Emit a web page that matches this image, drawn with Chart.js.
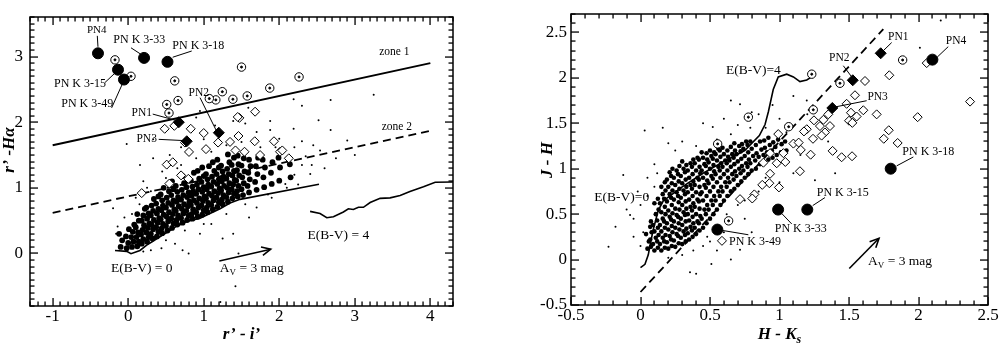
<!DOCTYPE html>
<html>
<head>
<meta charset="utf-8">
<script src="https://cdn.jsdelivr.net/npm/chart.js@4.4.0/dist/chart.umd.min.js"></script>
<style>
  html, body { margin: 0; padding: 0; background: #fff; }
  #wrap { position: relative; width: 1001px; height: 348px; overflow: hidden; }
  #cl { position: absolute; left: 0; top: 0; }
  #cr { position: absolute; left: 530px; top: 0; }
</style>
</head>
<body>
<div id="wrap">
  <canvas id="cl" width="470" height="348"></canvas>
  <canvas id="cr" width="471" height="348"></canvas>
</div>
<script>
const SERIF = "Liberation Serif, DejaVu Serif, serif";

// ---------- left panel: r'-i' vs r'-Halpha ----------
const pnCirclesL = [[-0.40, 3.05], [0.21, 2.98], [0.52, 2.92], [-0.135, 2.80], [-0.056, 2.65]];
const pnDiamondsL = [[0.67, 2.00], [1.20, 1.84], [0.775, 1.71]];
const dotCirclesL = [[-0.175, 2.95], [0.037, 2.70], [0.616, 2.63], [1.50, 2.84], [2.262, 2.69], [1.874, 2.52],
  [1.576, 2.40], [1.386, 2.35], [1.246, 2.465], [1.16, 2.34], [1.074, 2.36], [0.66, 2.33], [0.51, 2.27], [0.54, 2.14]];
const openDiamondsL = [[0.483, 1.90], [0.611, 1.945], [0.828, 1.90], [1.472, 2.066], [1.45, 2.08], [1.68, 2.16],
  [1.0, 1.835], [0.752, 1.69], [0.805, 1.547], [0.51, 1.354], [0.59, 1.39], [0.70, 1.19], [0.796, 1.137],
  [0.545, 1.065], [0.179, 0.92], [1.46, 1.79], [1.675, 1.71], [1.93, 1.71], [1.03, 1.59], [1.19, 1.69],
  [1.348, 1.70], [1.42, 1.57], [1.54, 1.55], [1.746, 1.50], [2.01, 1.55], [2.126, 1.45], [2.04, 1.57]];
const fieldCoreL = [
  [-0.1,0.1],[-0.08,0.2],[-0.12,0.3],
  [-0.02,0.08],[0.0,0.16],[-0.03,0.26],[0.01,0.37],
  [0.05,0.1],[0.07,0.18],[0.04,0.25],[0.06,0.33],[0.08,0.44],
  [0.12,0.11],[0.14,0.18],[0.11,0.25],[0.13,0.32],[0.1,0.4],[0.14,0.5],[0.12,0.6],
  [0.18,0.15],[0.2,0.22],[0.17,0.29],[0.19,0.36],[0.21,0.43],[0.18,0.5],[0.2,0.58],[0.22,0.68],
  [0.25,0.18],[0.27,0.25],[0.24,0.32],[0.26,0.39],[0.28,0.46],[0.25,0.53],[0.27,0.61],[0.24,0.7],
  [0.32,0.23],[0.3,0.3],[0.33,0.37],[0.31,0.44],[0.34,0.51],[0.3,0.58],[0.33,0.65],[0.31,0.73],[0.34,0.83],
  [0.38,0.26],[0.4,0.33],[0.37,0.4],[0.39,0.47],[0.41,0.54],[0.38,0.61],[0.4,0.68],[0.37,0.76],[0.4,0.87],
  [0.45,0.31],[0.44,0.38],[0.46,0.45],[0.43,0.52],[0.47,0.59],[0.44,0.66],[0.46,0.73],[0.45,0.81],[0.43,0.9],[0.47,1.0],
  [0.52,0.35],[0.5,0.42],[0.53,0.49],[0.51,0.56],[0.54,0.63],[0.5,0.7],[0.53,0.77],[0.51,0.85],[0.54,0.95],
  [0.58,0.39],[0.6,0.46],[0.57,0.53],[0.59,0.6],[0.61,0.67],[0.58,0.74],[0.6,0.81],[0.57,0.89],[0.6,0.98],[0.58,1.1],
  [0.65,0.44],[0.64,0.51],[0.66,0.58],[0.63,0.65],[0.67,0.72],[0.64,0.79],[0.66,0.86],[0.65,0.94],[0.63,1.03],
  [0.72,0.47],[0.7,0.54],[0.73,0.61],[0.71,0.68],[0.74,0.75],[0.7,0.82],[0.73,0.89],[0.71,0.97],[0.74,1.07],[0.72,1.18],
  [0.78,0.51],[0.8,0.58],[0.77,0.65],[0.79,0.72],[0.81,0.79],[0.78,0.86],[0.8,0.93],[0.77,1.01],[0.8,1.11],
  [0.85,0.53],[0.84,0.6],[0.86,0.67],[0.83,0.74],[0.87,0.81],[0.84,0.88],[0.86,0.95],[0.85,1.02],[0.83,1.11],[0.87,1.23],
  [0.92,0.56],[0.9,0.63],[0.93,0.7],[0.91,0.77],[0.94,0.84],[0.9,0.91],[0.93,0.98],[0.91,1.05],[0.94,1.14],[0.92,1.26],
  [0.98,0.59],[1.0,0.66],[0.97,0.73],[0.99,0.8],[1.01,0.87],[0.98,0.94],[1.0,1.01],[0.97,1.09],[1.0,1.18],[0.98,1.31],
  [1.05,0.63],[1.04,0.7],[1.06,0.77],[1.03,0.84],[1.07,0.91],[1.04,0.98],[1.06,1.05],[1.05,1.13],[1.03,1.21],[1.07,1.33],
  [1.12,0.67],[1.1,0.74],[1.13,0.81],[1.11,0.88],[1.14,0.95],[1.1,1.02],[1.13,1.09],[1.11,1.17],[1.14,1.26],[1.12,1.39],
  [1.18,0.71],[1.2,0.78],[1.17,0.85],[1.19,0.92],[1.21,0.99],[1.18,1.06],[1.2,1.13],[1.17,1.21],[1.2,1.31],[1.18,1.43],
  [1.25,0.75],[1.24,0.82],[1.26,0.89],[1.23,0.96],[1.27,1.03],[1.24,1.1],[1.26,1.17],[1.25,1.25],[1.23,1.34],
  [1.32,0.79],[1.3,0.86],[1.33,0.93],[1.31,1.0],[1.34,1.07],[1.3,1.14],[1.33,1.21],[1.31,1.29],[1.34,1.39],[1.32,1.51],
  [1.38,0.84],[1.4,0.91],[1.37,0.98],[1.39,1.05],[1.41,1.12],[1.38,1.19],[1.4,1.26],[1.37,1.35],[1.4,1.46],
  [1.45,0.87],[1.44,0.95],[1.46,1.03],[1.43,1.11],[1.47,1.19],[1.44,1.27],[1.46,1.36],[1.45,1.49],
  [1.52,0.89],[1.5,0.98],[1.53,1.07],[1.51,1.16],[1.54,1.25],[1.5,1.34],[1.53,1.45],
  [1.6,0.93],[1.58,1.03],[1.61,1.13],[1.59,1.23],[1.62,1.33],[1.6,1.43],
  [1.7,0.97],[1.68,1.09],[1.71,1.21],[1.69,1.33],[1.72,1.46],
  [1.8,1.01],[1.79,1.16],[1.81,1.31],[1.78,1.43],
  [1.9,1.06],[1.89,1.23],[1.91,1.39],
  [2.0,1.11],[2.01,1.31],[1.99,1.46],
  [2.15,1.16],[2.14,1.36]
];
const fieldSparseL = [[-0.02,1.67],[0.33,1.74],[0.156,1.35],[0.33,1.45],[0.95,2.17],[0.9,2.07],[1.39,2.02],
  [1.59,2.22],[1.88,2.02],[1.88,1.88],[1.0,1.74],[2.19,2.35],[2.3,2.25],[2.68,2.34],[3.25,2.42],[2.68,1.88],
  [2.19,1.9],[2.52,2.03],[2.3,1.71],[2.54,1.57],[2.43,1.35],[2.41,1.21],[2.08,1.06],[1.39,0.3],[1.25,0.23],
  [1.46,0.0],[1.42,-0.5],[1.22,-0.74],[0.8,0.0],[0.72,0.05],[0.62,0.15],[0.44,0.08],[-0.16,0.3],[-0.14,0.41],
  [-0.2,0.69],[0.55,1.5],[0.7,1.62],[0.2,1.1],[0.1,0.85],[-0.05,0.55],[1.7,1.85],[2.0,1.75],[2.2,1.62],
  [2.35,1.48],[2.6,1.3],[2.75,1.45],[2.9,1.72],[2.2,1.2],[1.9,0.85],[1.7,0.7],[1.6,0.55],[1.1,0.45],[0.95,0.3],
  [0.3,0.05],[1.15,1.95],[0.45,1.25],[0.25,1.0],[1.55,1.98],[0.8,1.55],[0.65,1.3],[1.95,1.62],[2.45,1.65],[3.0,1.5],
  [0.05,0.6],[0.15,0.75],[0.3,0.95],[0.5,1.15],[0.7,1.35],[0.9,1.45],[1.1,1.55],[1.3,1.65],[1.5,1.7],[1.75,1.62],
  [2.1,1.0],[1.85,0.9],[1.55,0.75],[1.3,0.6],[1.0,0.45],[0.75,0.35],[0.5,0.2],[0.2,0.03],[2.3,1.35],[2.25,1.05]];
const zone1L = [[-1, 1.65], [4, 2.90]];
const zone2L = [[-1, 0.62], [4, 1.87]];
const locus0L = [[-0.175,0.046],[-0.02,0.032],[0.037,-0.003],[0.156,0.046],[0.245,0.127],[0.332,0.19],[0.377,0.224],
  [0.51,0.32],[0.642,0.416],[0.775,0.488],[0.951,0.537],[1.083,0.609],[1.216,0.681],[1.348,0.768],[1.48,0.825],[2.526,1.056]];
const locus4L = [[2.408,0.642],[2.54,0.609],[2.629,0.545],[2.717,0.56],[2.849,0.632],[2.915,0.681],[2.981,0.671],
  [3.048,0.704],[3.114,0.704],[3.203,0.776],[3.335,0.84],[3.467,0.848],[3.6,0.883],[3.73,0.945],[3.909,1.017],
  [4.064,1.085],[4.316,1.09]];
const arrowL = [[1.207, -0.113], [1.887, 0.065]];
const leadersL = [
  [[-0.409,3.316],[-0.40,3.149]], [[0.037,3.134],[0.179,3.027]], [[0.841,3.085],[0.589,2.99]],
  [[-0.307,2.605],[-0.175,2.749]], [[-0.219,2.219],[-0.073,2.594]], [[0.325,2.124],[0.633,2.027]],
  [[0.951,2.374],[1.172,1.859]], [[0.404,1.739],[0.743,1.72]]];
const labelsL = [
  [-0.417, 3.40, 'PN4', 11], [0.147, 3.25, 'PN K 3-33', 12], [0.929, 3.16, 'PN K 3-18', 12],
  [-0.638, 2.59, 'PN K 3-15', 12], [-0.542, 2.28, 'PN K 3-49', 12], [0.179, 2.14, 'PN1', 11.5],
  [0.934, 2.45, 'PN2', 11.5], [0.245, 1.75, 'PN3', 11.5], [3.524, 3.07, 'zone 1', 11.5],
  [3.556, 1.93, 'zone 2', 11.5], [0.179, -0.234, 'E(B-V) = 0', 13.5], [1.636, -0.234, 'A_V = 3 mag', 13.5],
  [2.783, 0.28, 'E(B-V) = 4', 13.5]];

// ---------- right panel: H-Ks vs J-H ----------
const pnCirclesR = [[2.10, 2.20], [1.80, 1.00], [1.20, 0.55], [0.99, 0.55], [0.553, 0.33]];
const pnDiamondsR = [[1.728, 2.27], [1.527, 1.973], [1.38, 1.668]];
const dotCirclesR = [[1.232, 2.04], [1.435, 1.94], [1.886, 2.196], [0.776, 1.567], [1.066, 1.462],
  [0.555, 1.273], [0.634, 0.426], [1.243, 1.648]];
const openDiamondsR = [[2.059,2.162],[1.79,2.028],[1.615,1.965],[1.543,1.808],[1.483,1.714],[1.603,1.643],
  [1.514,1.616],[1.5,1.528],[1.524,1.504],[1.555,1.574],[1.699,1.598],[1.994,1.567],[2.371,1.738],[1.786,1.423],
  [1.75,1.329],[1.85,1.283],[1.382,1.196],[1.447,1.126],[1.522,1.137],[1.351,1.598],[1.316,1.538],[1.291,1.469],
  [1.363,1.469],[1.327,1.399],[1.303,1.364],[1.248,1.532],[1.196,1.434],[1.176,1.41],[1.241,1.329],[1.224,1.154],
  [1.153,1.207],[1.1,1.276],[1.028,1.171],[1.042,1.074],[0.98,1.06],[0.932,0.944],[1.147,0.972],[0.996,0.794],
  [0.927,0.84],[0.876,0.822],[0.819,0.717],[0.804,0.672],[0.716,0.665],[0.586,0.206],[0.884,1.066],[0.932,1.171],
  [0.991,1.381],[1.138,1.287]];
const fieldCoreR = [
  [0.05,0.12],[0.06,0.2],[0.04,0.28],[0.07,0.36],
  [0.1,0.1],[0.09,0.17],[0.11,0.24],[0.1,0.31],[0.09,0.38],[0.11,0.5],[0.1,0.62],
  [0.15,0.1],[0.14,0.17],[0.16,0.24],[0.15,0.31],[0.14,0.38],[0.16,0.45],[0.15,0.52],[0.14,0.62],[0.16,0.72],[0.15,0.8],
  [0.2,0.12],[0.19,0.19],[0.21,0.26],[0.2,0.33],[0.19,0.4],[0.21,0.47],[0.2,0.54],[0.19,0.64],[0.21,0.72],[0.2,0.8],[0.19,0.88],[0.21,0.96],
  [0.25,0.14],[0.24,0.21],[0.26,0.28],[0.25,0.35],[0.24,0.42],[0.26,0.49],[0.25,0.56],[0.24,0.66],[0.26,0.74],[0.25,0.82],[0.24,0.9],[0.26,0.98],
  [0.3,0.17],[0.29,0.24],[0.31,0.31],[0.3,0.38],[0.29,0.45],[0.31,0.52],[0.3,0.6],[0.29,0.68],[0.31,0.76],[0.3,0.84],[0.29,0.92],[0.31,1.0],[0.3,1.08],
  [0.35,0.22],[0.34,0.29],[0.36,0.36],[0.35,0.43],[0.34,0.5],[0.36,0.58],[0.35,0.66],[0.34,0.74],[0.36,0.82],[0.35,0.9],[0.34,0.98],[0.36,1.06],
  [0.4,0.28],[0.39,0.35],[0.41,0.42],[0.4,0.5],[0.39,0.58],[0.41,0.66],[0.4,0.74],[0.39,0.82],[0.41,0.9],[0.4,0.98],[0.39,1.06],[0.41,1.12],
  [0.45,0.35],[0.44,0.45],[0.46,0.55],[0.45,0.65],[0.44,0.74],[0.46,0.82],[0.45,0.9],[0.44,0.98],[0.46,1.05],[0.45,1.12],[0.44,1.18],
  [0.5,0.45],[0.49,0.55],[0.51,0.65],[0.5,0.75],[0.49,0.84],[0.51,0.92],[0.5,1.0],[0.49,1.07],[0.51,1.14],[0.5,1.2],
  [0.55,0.55],[0.54,0.65],[0.56,0.75],[0.55,0.85],[0.54,0.94],[0.56,1.02],[0.55,1.09],[0.54,1.16],[0.56,1.22],
  [0.6,0.65],[0.59,0.75],[0.61,0.85],[0.6,0.94],[0.59,1.02],[0.61,1.09],[0.6,1.16],[0.59,1.23],
  [0.65,0.75],[0.64,0.85],[0.66,0.94],[0.65,1.02],[0.64,1.09],[0.66,1.16],[0.65,1.24],
  [0.7,0.82],[0.69,0.92],[0.71,1.0],[0.7,1.08],[0.69,1.16],[0.71,1.25],
  [0.75,0.9],[0.74,0.98],[0.76,1.06],[0.75,1.14],[0.74,1.22],[0.76,1.3],
  [0.8,0.98],[0.79,1.06],[0.81,1.14],[0.8,1.22],[0.79,1.3],
  [0.86,1.05],[0.85,1.13],[0.87,1.21],[0.86,1.3],
  [0.92,1.1],[0.91,1.18],[0.93,1.26],[0.92,1.34],
  [0.98,1.15],[0.97,1.24],[0.99,1.32],
  [1.05,1.2],[1.04,1.3]
];
const fieldMidR = [
  [0.075,0.14],[0.07,0.22],[0.08,0.3],[0.075,0.42],
  [0.125,0.13],[0.12,0.2],[0.13,0.27],[0.125,0.35],[0.12,0.43],[0.13,0.55],[0.125,0.67],
  [0.175,0.13],[0.17,0.2],[0.18,0.27],[0.175,0.35],[0.17,0.42],[0.18,0.5],[0.175,0.58],[0.17,0.67],[0.18,0.76],[0.175,0.85],
  [0.225,0.15],[0.22,0.22],[0.23,0.3],[0.225,0.37],[0.22,0.44],[0.23,0.51],[0.225,0.6],[0.22,0.68],[0.23,0.76],[0.225,0.84],[0.22,0.92],[0.23,1.0],
  [0.275,0.18],[0.27,0.26],[0.28,0.33],[0.275,0.4],[0.27,0.47],[0.28,0.55],[0.275,0.63],[0.27,0.7],[0.28,0.78],[0.275,0.86],[0.27,0.94],[0.28,1.03],
  [0.325,0.2],[0.32,0.27],[0.33,0.34],[0.325,0.42],[0.32,0.49],[0.33,0.56],[0.325,0.64],[0.32,0.72],[0.33,0.8],[0.325,0.88],[0.32,0.96],[0.33,1.04],
  [0.375,0.25],[0.37,0.32],[0.38,0.4],[0.375,0.47],[0.37,0.54],[0.38,0.62],[0.375,0.7],[0.37,0.78],[0.38,0.86],[0.375,0.94],[0.37,1.02],[0.38,1.1],
  [0.425,0.32],[0.42,0.4],[0.43,0.48],[0.425,0.56],[0.42,0.64],[0.43,0.72],[0.425,0.8],[0.42,0.88],[0.43,0.95],[0.425,1.02],[0.42,1.1],
  [0.475,0.4],[0.47,0.5],[0.48,0.6],[0.475,0.7],[0.47,0.79],[0.48,0.87],[0.475,0.95],[0.47,1.03],[0.48,1.1],[0.475,1.17],
  [0.525,0.5],[0.52,0.6],[0.53,0.7],[0.525,0.8],[0.52,0.89],[0.53,0.97],[0.525,1.04],[0.52,1.11],[0.53,1.18],
  [0.575,0.6],[0.57,0.7],[0.58,0.8],[0.575,0.9],[0.57,0.98],[0.58,1.06],[0.575,1.13],[0.57,1.2],
  [0.625,0.7],[0.62,0.8],[0.63,0.9],[0.625,0.98],[0.62,1.06],[0.63,1.13],[0.625,1.2],
  [0.675,0.78],[0.67,0.88],[0.68,0.97],[0.675,1.05],[0.67,1.12],[0.68,1.2],[0.675,1.28],
  [0.725,0.86],[0.72,0.95],[0.73,1.03],[0.725,1.11],[0.72,1.19],[0.73,1.27],
  [0.775,0.94],[0.77,1.02],[0.78,1.1],[0.775,1.18],[0.77,1.26],
  [0.83,1.0],[0.825,1.09],[0.835,1.17],[0.83,1.26],
  [0.89,1.07],[0.885,1.15],[0.895,1.23],[0.89,1.31],
  [0.95,1.12],[0.945,1.2],[0.955,1.29],
  [1.01,1.18],[1.015,1.27]
];
const fieldSparseR = [[-0.23,0.14],[-0.18,0.36],[-0.124,0.93],[-0.1,0.55],[-0.075,0.49],[-0.05,0.45],[-0.02,0.75],
  [0.0,0.6],[0.03,1.42],[0.05,0.9],[0.1,1.05],[0.16,1.45],[0.2,1.28],[0.25,1.2],[0.3,1.3],[0.45,1.5],[0.52,1.46],
  [0.6,1.55],[0.7,1.48],[0.716,1.71],[0.79,1.45],[0.85,1.6],[0.95,1.7],[1.0,1.55],[1.1,1.8],[1.196,1.75],
  [1.2,1.6],[1.3,1.5],[1.35,1.3],[0.7,0.6],[0.75,0.45],[0.8,0.3],[0.5,0.2],[0.51,-0.05],[0.4,-0.155],
  [0.356,-0.14],[0.716,0.107],[0.55,0.1],[0.65,0.0],[0.9,0.9],[1.1,0.95],[1.255,0.874],[1.4,0.95],
  [2.01,2.33],[2.16,2.63],[0.65,1.75],[1.05,1.4],[0.6,0.3],[0.45,0.15],[0.02,0.3],[0.0,0.15],[-0.05,0.25],
  [0.05,0.7],[0.1,0.8],[0.12,0.95],[0.4,1.25],[0.55,1.32],[0.65,1.38],[0.85,0.75],[0.75,0.65],[0.62,0.5],
  [0.55,0.35],[0.48,0.25],[0.38,0.1],[0.3,0.05],[0.2,0.02],[1.15,1.15],[1.0,0.85],[0.9,1.45],[0.8,1.62]];
const dashR = [[0, -0.357], [1.747, 2.535]];
const trackR = [[0.0,-0.09],[0.032,-0.052],[0.056,0.052],[0.073,0.192],[0.092,0.331],[0.128,0.541],[0.164,0.646],
  [0.3,0.8],[0.45,0.95],[0.6,1.08],[0.75,1.2],[0.855,1.364],[0.896,1.486],[0.92,1.627],[0.955,1.871],[0.991,2.01],
  [1.052,2.04],[1.1,2.01],[1.147,1.958],[1.196,1.976],[1.232,2.01]];
const arrowR = [[1.502, -0.098], [1.716, 0.234]];
const leadersR = [
  [[1.807,2.388],[1.742,2.291]], [[2.214,2.343],[2.135,2.228]], [[1.459,2.133],[1.519,2.011]],
  [[1.627,1.748],[1.399,1.679]], [[1.963,1.129],[1.843,1.031]], [[1.327,0.682],[1.239,0.594]],
  [[1.088,0.392],[1.016,0.507]], [[0.776,0.273],[0.584,0.322]]];
const labelsR = [
  [1.855, 2.448, 'PN1', 11.5], [2.27, 2.406, 'PN4', 11.5], [1.43, 2.214, 'PN2', 11.5], [1.706, 1.784, 'PN3', 11.5],
  [0.812, 2.081, 'E(B-V)=4', 13.5], [-0.135, 0.682, 'E(B-V)=0', 13.5], [2.071, 1.189, 'PN K 3-18', 12],
  [1.455, 0.735, 'PN K 3-15', 12], [1.153, 0.339, 'PN K 3-33', 12], [0.824, 0.2, 'PN K 3-49', 12],
  [1.867, -0.018, 'A_V = 3 mag', 13.5]];

function pts(arr) { return arr.map(p => ({x: p[0], y: p[1]})); }

function marks(data, style, order) {
  return Object.assign({data: pts(data), order: order, showLine: false, pointBorderColor: '#000',
    pointBackgroundColor: '#000', pointBorderWidth: 1, pointHoverRadius: 0}, style);
}
function curve(data, style, order) {
  return Object.assign({data: pts(data), order: order, showLine: true, pointRadius: 0, borderColor: '#000',
    borderWidth: 1.6, fill: false, tension: 0}, style);
}

// text with "_X" meaning subscript X
function richText(ctx, str, cx, cy, size, style) {
  const parts = str.split(/_(.)/);
  const big = (style || '') + ' ' + size + 'px ' + SERIF;
  const small = (style || '') + ' ' + Math.round(size * 0.7) + 'px ' + SERIF;
  let w = 0;
  parts.forEach((p, i) => { ctx.font = i % 2 ? small : big; w += ctx.measureText(p).width; });
  let x = cx - w / 2;
  ctx.textAlign = 'left';
  ctx.textBaseline = 'middle';
  parts.forEach((p, i) => {
    ctx.font = i % 2 ? small : big;
    ctx.fillText(p, x, i % 2 ? cy + size * 0.3 : cy);
    x += ctx.measureText(p).width;
  });
}

// frame, inward ticks, leaders, arrow head, annotations and axis titles
function makeDecor(id, cfg) {
  return {
    id: id,
    afterDraw(chart) {
      const ctx = chart.ctx, area = chart.chartArea, sx = chart.scales.x, sy = chart.scales.y;
      const L = Math.round(area.left), R = Math.round(area.right), T = Math.round(area.top), B = Math.round(area.bottom);
      ctx.save();
      ctx.setLineDash([]);
      ctx.fillStyle = '#000';
      ctx.strokeStyle = '#000';

      // inward ticks on all four sides
      const nx0 = Math.ceil(cfg.xRange[0] / cfg.xMinor - 1e-6), nx1 = Math.floor(cfg.xRange[1] / cfg.xMinor + 1e-6);
      for (let i = nx0; i <= nx1; i++) {
        const r = i * cfg.xMinor / cfg.xMajor;
        const len = Math.abs(r - Math.round(r)) < 1e-6 ? 8 : 4.5;
        const p = Math.round(sx.getPixelForValue(i * cfg.xMinor)) - 0.6;
        ctx.fillRect(p, B - len, 1.3, len);
        ctx.fillRect(p, T, 1.3, len);
      }
      const ny0 = Math.ceil(cfg.yRange[0] / cfg.yMinor - 1e-6), ny1 = Math.floor(cfg.yRange[1] / cfg.yMinor + 1e-6);
      for (let i = ny0; i <= ny1; i++) {
        const r = i * cfg.yMinor / cfg.yMajor;
        const len = Math.abs(r - Math.round(r)) < 1e-6 ? 8 : 4.5;
        const p = Math.round(sy.getPixelForValue(i * cfg.yMinor)) - 0.6;
        ctx.fillRect(L, p, len, 1.3);
        ctx.fillRect(R - len, p, len, 1.3);
      }
      ctx.lineWidth = 1.5;
      ctx.strokeRect(L, T, R - L, B - T);

      ctx.lineWidth = 1;
      ctx.beginPath();
      cfg.leaders.forEach(l => {
        ctx.moveTo(sx.getPixelForValue(l[0][0]), sy.getPixelForValue(l[0][1]));
        ctx.lineTo(sx.getPixelForValue(l[1][0]), sy.getPixelForValue(l[1][1]));
      });
      ctx.stroke();

      const ax0 = sx.getPixelForValue(cfg.arrow[0][0]), ay0 = sy.getPixelForValue(cfg.arrow[0][1]);
      const ax1 = sx.getPixelForValue(cfg.arrow[1][0]), ay1 = sy.getPixelForValue(cfg.arrow[1][1]);
      const ang = Math.atan2(ay1 - ay0, ax1 - ax0);
      ctx.lineWidth = 1.6;
      ctx.beginPath();
      ctx.moveTo(ax1 - 10 * Math.cos(ang - 0.45), ay1 - 10 * Math.sin(ang - 0.45));
      ctx.lineTo(ax1, ay1);
      ctx.lineTo(ax1 - 10 * Math.cos(ang + 0.45), ay1 - 10 * Math.sin(ang + 0.45));
      ctx.stroke();

      cfg.labels.forEach(l => richText(ctx, l[2], sx.getPixelForValue(l[0]), sy.getPixelForValue(l[1]), l[3], ''));

      richText(ctx, cfg.xTitle, (L + R) / 2, 335, 17, 'italic bold');
      ctx.translate(cfg.yTitleX, cfg.yTitleY);
      ctx.rotate(-Math.PI / 2);
      richText(ctx, cfg.yTitle, 0, 0, 17, 'italic bold');
      ctx.restore();
    }
  };
}

function axis(range, step, fit, padding) {
  return {
    type: 'linear', min: range[0], max: range[1],
    ticks: {stepSize: step, includeBounds: false, color: '#000', padding: padding, maxRotation: 0, autoSkip: false,
      font: {family: SERIF, size: 17}, callback: v => String(Math.round(v * 10) / 10)},
    grid: {display: false, drawTicks: false},
    border: {display: false},
    afterFit: fit
  };
}

function panel(id, sets, xs, ys, padRight, deco) {
  return new Chart(document.getElementById(id), {
    type: 'scatter',
    data: {datasets: sets},
    options: {
      responsive: false, animation: false, events: [],
      layout: {padding: {top: 1, right: padRight, left: 0, bottom: 0}},
      scales: {x: xs, y: ys},
      plugins: {legend: {display: false}, tooltip: {enabled: false}}
    },
    plugins: [makeDecor('decor_' + id, deco)]
  });
}

function setsFor(cores, sparse, openD, dotC, pnD, pnC, curves, coreR) {
  return [
    marks(pnC, {pointRadius: 5.5}, 0),
    marks(pnD, {pointStyle: 'rectRot', pointRadius: 5.5}, 1),
    marks(dotC, {pointRadius: 1}, 2),
    marks(dotC, {pointRadius: 4.2, pointBackgroundColor: '#fff'}, 3),
    marks(openD, {pointStyle: 'rectRot', pointRadius: 4.5, pointBackgroundColor: '#fff'}, 4),
    ...curves.map((c, i) => curve(c[0], c[1], 5 + i)),
    ...cores.map((c, i) => marks(c, {pointRadius: coreR, pointBorderWidth: 0}, 20 + i)),
    marks(sparse, {pointRadius: 1, pointBorderWidth: 0}, 30)
  ];
}

const xRangeL = [-1.3, 4.3], yRangeL = [-0.8, 3.6];
const xRangeR = [-0.5, 2.5], yRangeR = [-0.5, 2.7];

panel('cl',
  setsFor([fieldCoreL], fieldSparseL, openDiamondsL, dotCirclesL, pnDiamondsL, pnCirclesL, [
    [zone1L, {borderWidth: 2}], [zone2L, {borderWidth: 1.8, borderDash: [8, 5]}],
    [locus0L, {}], [locus4L, {}], [arrowL, {}]], 2.9),
  axis(xRangeL, 1, s => { s.height = 42; }, 0),
  axis(yRangeL, 1, s => { s.width = 30; }, 7),
  17,
  {xRange: xRangeL, yRange: yRangeL, xMinor: 0.1, xMajor: 1, yMinor: 0.1, yMajor: 1,
    leaders: leadersL, labels: labelsL, arrow: arrowL,
    xTitle: 'r\u2019 - i\u2019', yTitle: 'r\u2019 -H\u03b1', yTitleX: 10, yTitleY: 150});

panel('cr',
  setsFor([fieldCoreR, fieldMidR], fieldSparseR, openDiamondsR, dotCirclesR, pnDiamondsR, pnCirclesR, [
    [dashR, {borderWidth: 1.8, borderDash: [8, 5]}], [trackR, {}], [arrowR, {}]], 2.3),
  axis(xRangeR, 0.5, s => { s.height = 43; }, 0),
  axis(yRangeR, 0.5, s => { s.width = 41; }, 4),
  13,
  {xRange: xRangeR, yRange: yRangeR, xMinor: 0.1, xMajor: 0.5, yMinor: 0.1, yMajor: 0.5,
    leaders: leadersR, labels: labelsR, arrow: arrowR,
    xTitle: 'H - K_s', yTitle: 'J - H', yTitleX: 18, yTitleY: 160});
</script>
</body>
</html>
